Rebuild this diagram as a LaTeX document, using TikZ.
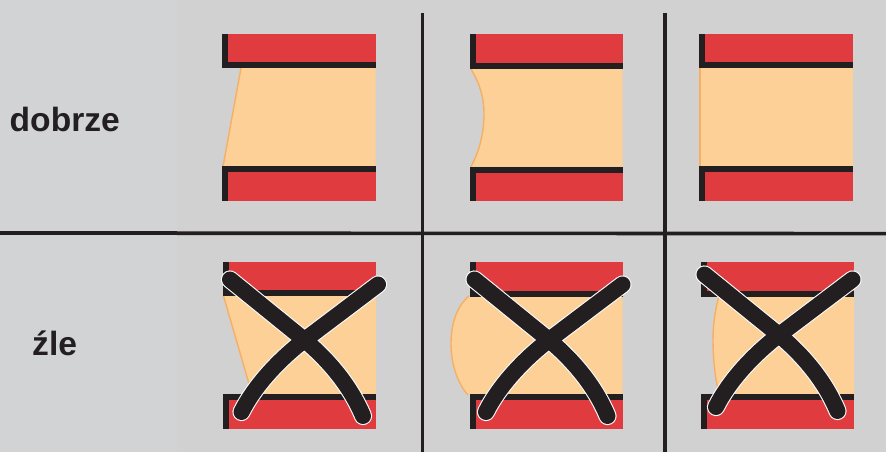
\documentclass[tikz,border=0pt]{standalone}
\usepackage{fontspec}
\setmainfont{Liberation Sans}
\definecolor{bgR}{HTML}{D1D1D1}
\definecolor{bgL}{HTML}{D2D3D5}
\definecolor{redF}{HTML}{E03C40}
\definecolor{inkK}{HTML}{231F20}
\definecolor{coreF}{HTML}{FCD097}
\definecolor{coreE}{HTML}{F5B066}
\tikzset{
  x=1pt,y=-1pt,
  rule/.style={draw=inkK,line width=3.6pt},
  label text/.style={font=\fontsize{33.6}{33.6}\selectfont\bfseries,text=inkK,inner sep=0pt,anchor=base west},
  core/.style={fill=coreF},
  coreedge/.style={draw=coreE,line width=1.4pt},
  crosswhite/.style={draw=white!92!bgR,line width=18.2pt,line cap=round,line join=round},
  crossblack/.style={draw=inkK,line width=16pt,line cap=round,line join=round},
}
% #1 left x, #2 right x, #3 top y, #4 upper black bottom y, #5 lower black top y, #6 bottom y
\newcommand{\plates}[6]{%
  \fill[redF] (#1,#3) rectangle (#2,#4);
  \fill[redF] (#1,#5) rectangle (#2,#6);
  \fill[inkK] (#1,#3) rectangle ++(6,{#4-#3});
  \fill[inkK] (#1,#4) rectangle (#2,{#4-6});
  \fill[inkK] (#1,#5) rectangle ++(6,{#6-#5});
  \fill[inkK] (#1,#5) rectangle (#2,{#5+6});
}
\newcommand{\xmark}[2]{%
  \begin{scope}[shift={(#1,#2)}]
    \foreach \st in {crosswhite,crossblack}{
      \draw[\st] (-74.5,-60.5) -- (0,0) .. controls (24,20) and (46,46) .. (58.5,76);
      \draw[\st] (73.5,-55.5) -- (0,0) .. controls (-26,20) and (-50,46) .. (-63,72);
    }
  \end{scope}%
}
\begin{document}
\begin{tikzpicture}
\useasboundingbox (0,0) rectangle (886,452);
\fill[bgR] (0,0) rectangle (886,452);
\fill[bgL] (0,0) rectangle (177,452);

% top row
\fill[core] (241,68) -- (375.5,68) -- (375.5,166.5) -- (223,166.5) -- cycle;
\draw[coreedge] (241,68) -- (223,166.5);
\plates{222}{375.5}{34}{68.5}{166}{200.5}

\fill[core] (471,69) .. controls (480,84) and (484,98) .. (484,113) .. controls (484,132) and (480,150) .. (471,166.5) -- (622.5,166.5) -- (622.5,69) -- cycle;
\draw[coreedge] (471,69) .. controls (480,84) and (484,98) .. (484,113) .. controls (484,132) and (480,150) .. (471,166.5);
\plates{469.5}{622.5}{34.5}{69}{166.5}{201}

\fill[core] (700,68) rectangle (852.5,166.5);
\draw[coreedge] (700,68) -- (700,166.5);
\plates{699.3}{852.5}{34}{68.5}{166}{200.5}

% bottom row
\fill[core] (223.5,296) -- (376,296) -- (376,394) -- (252,394) -- cycle;
\draw[coreedge] (223.5,296) -- (252,394);
\plates{223}{376}{262}{296}{393.7}{428.5}
\xmark{304.5}{340}

\fill[core] (469,296) .. controls (458,305) and (451,322) .. (451,343) .. controls (451,365) and (458,384) .. (468,395) -- (622.7,395) -- (622.7,296) -- cycle;
\draw[coreedge] (469,296) .. controls (458,305) and (451,322) .. (451,343) .. controls (451,365) and (458,384) .. (468,395);
\plates{469.5}{622.7}{262.3}{297}{394}{429}
\xmark{549}{340}

\fill[core] (719,296) .. controls (715,310) and (713,325) .. (713,340) .. controls (713,358) and (715,378) .. (719,394) -- (854,394) -- (854,296) -- cycle;
\draw[coreedge] (719,296) .. controls (715,310) and (713,325) .. (713,340) .. controls (713,358) and (715,378) .. (719,394);
\plates{701}{854}{262}{296.5}{394}{428.5}
\xmark{779}{335}

% grid
\coordinate (va) at (422.4,13);
\coordinate (vab) at (422.4,452);
\coordinate (vc) at (664.9,13);
\coordinate (vcb) at (664.9,452);
\coordinate (hl) at (0,233.2);
\coordinate (hm) at (177,233.2);
\coordinate (hr) at (886,233.6);
\draw[rule] (va) -- (vab);
\draw[rule] (vc) -- (vcb);
\draw[rule] (hl) -- (hm);
\draw[rule] (hm) -- (hr);

\node[label text] (good) at (9.5,131) {dobrze};
\node[label text] (bad) at (32,355.5) {źle};
\end{tikzpicture}
\end{document}
